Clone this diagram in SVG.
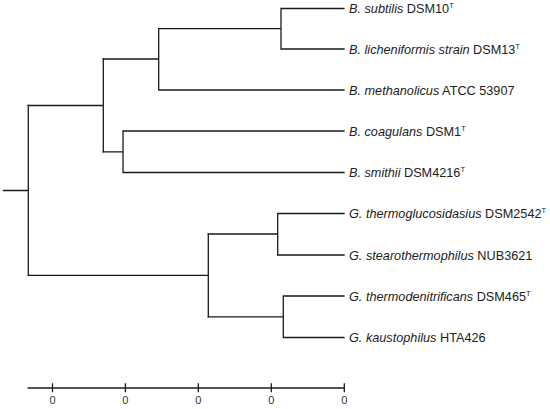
<svg xmlns="http://www.w3.org/2000/svg" width="550" height="409" viewBox="0 0 550 409">
<style>
.br{fill:none;stroke:#1a1a1a;stroke-width:1.3;stroke-linecap:square}
.lab{font-family:"Liberation Sans",Arial,sans-serif;font-size:12.7px;fill:#222}
.it{font-style:italic}
.sup{font-size:7.5px}
.ax{font-family:"Liberation Sans",Arial,sans-serif;font-size:11px;fill:#333;text-anchor:middle}
</style>
<rect width="550" height="409" fill="#fff"/>
<g id="connectors">
<path class="br" d="M3.5,190.5H28.3M28.3,105.5V275.3"/>
<path class="br" d="M28.3,105.5H103.3M103.3,59V151.8"/>
<path class="br" d="M103.3,59H158.7M158.7,28.7V90M158.7,90H344"/>
<path class="br" d="M158.7,28.7H281M281,8.5V49M281,8.5H344M281,49H344"/>
<path class="br" d="M103.3,151.8H123M123,131V172.5M123,131H344M123,172.5H344"/>
<path class="br" d="M28.3,275.3H208.3M208.3,234V316.8"/>
<path class="br" d="M208.3,234H277.7M277.7,213.5V255M277.7,213.5H344M277.7,255H344"/>
<path class="br" d="M208.3,316.8H283.3M283.3,296V337.5M283.3,296H344M283.3,337.5H344"/>
</g>
<g id="leaf1"><text class="lab" x="349" y="13"><tspan class="it">B. subtilis</tspan> DSM10<tspan class="sup" dy="-4.8">T</tspan></text></g>
<g id="leaf2"><text class="lab" x="349" y="53.5"><tspan class="it">B. licheniformis strain</tspan> DSM13<tspan class="sup" dy="-4.8">T</tspan></text></g>
<g id="leaf3"><text class="lab" x="349" y="94.5"><tspan class="it">B. methanolicus</tspan> ATCC 53907</text></g>
<g id="leaf4"><text class="lab" x="349" y="135.5"><tspan class="it">B. coagulans</tspan> DSM1<tspan class="sup" dy="-4.8">T</tspan></text></g>
<g id="leaf5"><text class="lab" x="349" y="177"><tspan class="it">B. smithii</tspan> DSM4216<tspan class="sup" dy="-4.8">T</tspan></text></g>
<g id="leaf6"><text class="lab" x="349" y="218"><tspan class="it">G. thermoglucosidasius</tspan> DSM2542<tspan class="sup" dy="-4.8">T</tspan></text></g>
<g id="leaf7"><text class="lab" x="349" y="259.5"><tspan class="it">G. stearothermophilus</tspan> NUB3621</text></g>
<g id="leaf8"><text class="lab" x="349" y="300.5"><tspan class="it">G. thermodenitrificans</tspan> DSM465<tspan class="sup" dy="-4.8">T</tspan></text></g>
<g id="leaf9"><text class="lab" x="349" y="342"><tspan class="it">G. kaustophilus</tspan> HTA426</text></g>
<g id="axis">
<path class="br" d="M28.3,388H344.3M52.5,384V391.5M125.4,384V391.5M198.3,384V391.5M271.3,384V391.5M344.3,384V391.5"/>
<text class="ax" x="52.5" y="403.5">0</text>
<text class="ax" x="125.4" y="403.5">0</text>
<text class="ax" x="198.3" y="403.5">0</text>
<text class="ax" x="271.3" y="403.5">0</text>
<text class="ax" x="344.3" y="403.5">0</text>
</g>
</svg>
